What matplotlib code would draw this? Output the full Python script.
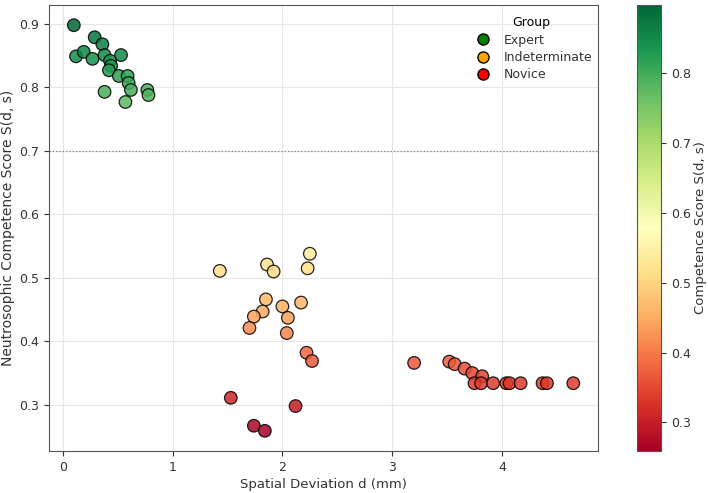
import numpy as np
import matplotlib
matplotlib.use("Agg")
import matplotlib.pyplot as plt
from matplotlib.lines import Line2D

# Spatial deviation d (mm) and competence score S(d, s)
expert_d = [0.10, 0.29, 0.36, 0.12, 0.19, 0.27, 0.38, 0.53, 0.43, 0.44,
            0.42, 0.51, 0.59, 0.60, 0.62, 0.77, 0.78, 0.38, 0.57]
expert_s = [0.898, 0.879, 0.868, 0.849, 0.856, 0.845, 0.851, 0.851, 0.842, 0.834,
            0.827, 0.818, 0.818, 0.807, 0.796, 0.796, 0.788, 0.793, 0.777]

mid_d = [2.25, 2.23, 1.86, 1.92, 1.43, 1.85, 2.17, 2.00, 1.82, 1.74,
         2.05, 1.70, 2.04, 2.22, 2.27, 1.53, 2.12, 1.74, 1.84]
mid_s = [0.538, 0.515, 0.521, 0.510, 0.511, 0.466, 0.461, 0.455, 0.447, 0.439,
         0.437, 0.421, 0.413, 0.382, 0.369, 0.311, 0.298, 0.267, 0.259]

far_d = [3.20, 3.52, 3.57, 3.66, 3.73, 3.82, 3.75, 3.81, 3.92, 4.04,
         4.07, 4.17, 4.37, 4.41, 4.65]
far_s = [0.366, 0.368, 0.364, 0.357, 0.350, 0.345, 0.334, 0.334, 0.334, 0.334,
         0.334, 0.334, 0.334, 0.334, 0.334]

groups = ["Expert", "Indeterminate", "Novice"]
group_colors = ["green", "orange", "red"]
threshold = 0.7

d = np.array(expert_d + mid_d + far_d)
s = np.array(expert_s + mid_s + far_s)

plt.rcParams["font.size"] = 9

fig = plt.figure(figsize=(7.08, 4.93), dpi=100)
ax = fig.add_axes([0.069, 0.085, 0.776, 0.905])
cax = fig.add_axes([0.900, 0.085, 0.034, 0.905])

sc = ax.scatter(d, s, c=s, cmap="RdYlGn", s=82, alpha=0.85,
                edgecolors="black", linewidths=0.9, zorder=3)
ax.axhline(threshold, color="grey", linestyle=":", linewidth=0.9, zorder=1)

ax.set_xlabel("Spatial Deviation d (mm)", color="#333333", fontsize=9.5, labelpad=3)
ax.set_ylabel("Neutrosophic Competence Score S(d, s)", color="#333333",
              fontsize=10, labelpad=3)
ax.grid(True, color="#e6e6e6", linewidth=0.8, zorder=0)
ax.set_axisbelow(True)
for sp in ax.spines.values():
    sp.set_color("#555555")
ax.tick_params(colors="#333333", labelsize=9)

handles = [Line2D([0], [0], marker="o", linestyle="", markersize=8,
                  markerfacecolor=c, markeredgecolor="black", label=g)
           for g, c in zip(groups, group_colors)]
ax.legend(handles=handles, title="Group", loc="upper right", frameon=False,
          bbox_to_anchor=(1.01, 1.0), labelcolor="#333333", fontsize=9,
          title_fontsize=9, labelspacing=0.35, handletextpad=0.7)

cb = fig.colorbar(sc, cax=cax)
cb.solids.set_alpha(1)
cb.set_label("Competence Score S(d, s)", color="#333333", fontsize=9.5, labelpad=2)
cb.outline.set_edgecolor("#555555")
cax.tick_params(colors="#333333", labelsize=9)

fig.savefig("out.png", dpi=100)
